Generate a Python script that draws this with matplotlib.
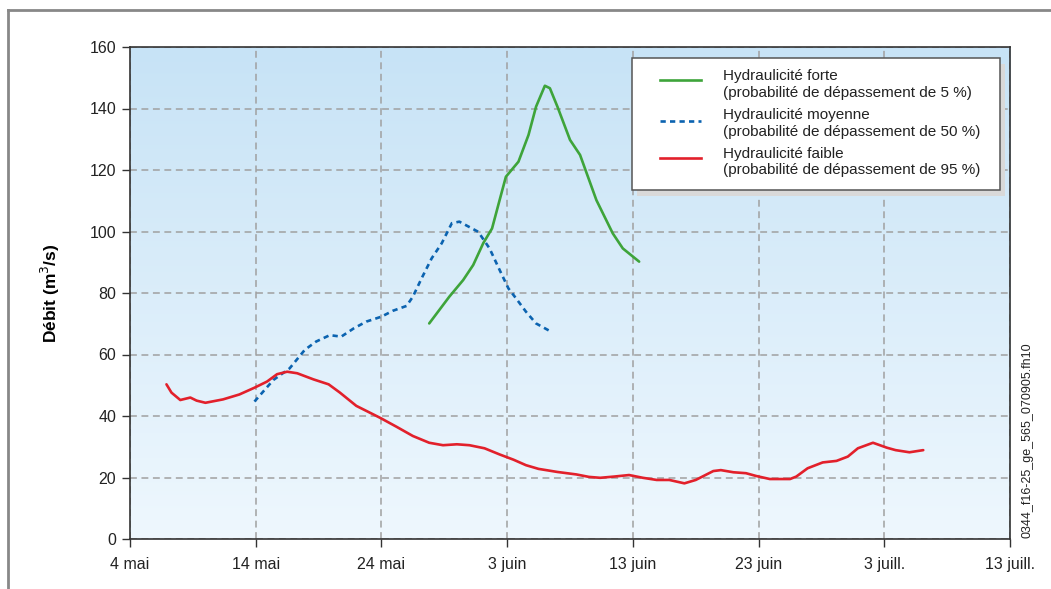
import numpy as np
import matplotlib
matplotlib.use("Agg")
import matplotlib.pyplot as plt
from matplotlib.patches import Rectangle
from matplotlib.lines import Line2D

plt.rcParams['font.family'] = ['Liberation Sans', 'DejaVu Sans']

# ---- data (x = days after 4 May) ----
x_ticks = [0, 10, 20, 30, 40, 50, 60, 70]
x_labels = ["4 mai", "14 mai", "24 mai", "3 juin", "13 juin", "23 juin", "3 juill.", "13 juill."]
y_ticks = [0, 20, 40, 60, 80, 100, 120, 140, 160]

forte_days = [23.8, 25.4, 26.5, 27.3, 28.1, 28.8, 29.4, 29.9, 30.9, 31.7, 32.3, 33.0, 33.4,
              34.0, 35.0, 35.8, 37.1, 38.4, 39.2, 40.5]
forte_vals = [70.1, 78.8, 84.2, 89.1, 96.2, 101.0, 110.2, 117.8, 122.7, 131.4, 140.6, 147.4, 146.6,
              140.6, 129.8, 124.9, 110.2, 99.4, 94.5, 90.2]

moy_days = [9.9, 11.4, 12.7, 13.9, 14.8, 15.9, 16.8, 17.8, 18.8, 20.0, 20.9, 22.0, 22.5, 23.2,
            24.0, 24.8, 25.6, 26.2, 27.7, 28.6, 29.4, 30.1, 30.7, 31.5, 32.3, 33.5]
moy_vals = [44.7, 51.7, 55.5, 61.5, 64.2, 66.3, 65.8, 68.5, 70.7, 72.3, 74.2, 75.8, 78.8, 84.8,
            91.3, 96.2, 102.7, 103.2, 99.9, 94.5, 87.5, 81.5, 78.3, 73.9, 70.1, 67.4]

faible_days = [2.9, 3.3, 4.0, 4.8, 5.3, 6.0, 7.4, 8.7, 9.9, 10.9, 11.7, 12.5, 13.3, 14.6, 15.8,
               16.7, 18.0, 19.9, 21.2, 22.5, 23.8, 24.9, 26.0, 27.0, 28.2, 29.4, 30.5, 31.5, 32.5,
               34.0, 35.5, 36.5, 37.4, 38.5, 39.7, 40.8, 41.9, 42.9, 44.1, 45.0, 46.4, 47.0, 48.0,
               49.0, 49.8, 50.9, 52.5, 53.0, 53.9, 55.1, 56.2, 57.1, 57.9, 59.1, 60.2, 60.9, 62.0,
               63.1]
faible_vals = [50.3, 47.6, 45.2, 46.0, 45.0, 44.3, 45.4, 47.0, 49.2, 51.2, 53.6, 54.4, 53.9, 51.9,
               50.3, 47.6, 43.3, 39.4, 36.5, 33.5, 31.3, 30.5, 30.8, 30.5, 29.5, 27.5, 25.8, 24.0,
               22.8, 21.8, 21.0, 20.2, 19.9, 20.3, 20.8, 19.9, 19.2, 19.2, 18.1, 19.2, 22.1, 22.4,
               21.7, 21.4, 20.5, 19.5, 19.5, 20.3, 23.0, 24.9, 25.4, 26.8, 29.5, 31.3, 29.7, 28.9,
               28.2, 28.9]

series_labels = [
    ("Hydraulicité forte", "(probabilité de dépassement de 5 %)"),
    ("Hydraulicité moyenne", "(probabilité de dépassement de 50 %)"),
    ("Hydraulicité faible", "(probabilité de dépassement de 95 %)"),
]
colors = ["#3ea43a", "#0b63b0", "#e2202b"]
styles = ["-", (0, (2.0, 1.6)), "-"]

# ---- figure ----
fig = plt.figure(figsize=(10.51, 5.89), dpi=100)
ax = fig.add_axes([130/1051, 1-539/589, 880/1051, 492/589])

# gradient background
grad = np.linspace(0, 1, 256).reshape(-1, 1)
top = np.array([0.78, 0.89, 0.965])
bot = np.array([0.935, 0.97, 0.995])
img = (bot + (top - bot) * grad).reshape(256, 1, 3)
ax.imshow(img, extent=[0, 1, 0, 1], transform=ax.transAxes,
          aspect='auto', origin='lower', zorder=0)

ax.set_xlim(0, 70)
ax.set_ylim(0, 160)
ax.set_xticks(x_ticks)
ax.set_xticklabels(x_labels)
ax.set_yticks(y_ticks)
ax.tick_params(axis='both', labelsize=11.5, color='#333333', labelcolor='#222222',
               length=6, width=1)
ax.tick_params(axis='x', pad=7)
ax.tick_params(axis='y', pad=4)
for s in ax.spines.values():
    s.set_color('#333333')
    s.set_linewidth(1.2)
    s.set_zorder(10)

ax.grid(True, color='#a0a0a0', linestyle=(0, (4.5, 3)), linewidth=1.1, zorder=1)
ax.set_axisbelow(False)

ax.set_ylabel("Débit (m$^3$/s)", fontsize=12.5, fontweight='bold', labelpad=20)

data = [(forte_days, forte_vals), (moy_days, moy_vals), (faible_days, faible_vals)]
for (d, v), c, ls in zip(data, colors, styles):
    ax.plot(d, v, color=c, linestyle=ls, linewidth=1.9, zorder=3,
            solid_capstyle='round', solid_joinstyle='round')

# ---- legend (manual) ----
def fx(px):
    return (px - 130) / 880
def fy(py):
    return (539 - py) / 492

lx0, lx1, ly0, ly1 = fx(631.5), fx(999.5), fy(189.5), fy(57.5)
ax.add_patch(Rectangle((fx(637), fy(195.5)), lx1 - lx0, ly1 - ly0, transform=ax.transAxes,
                       facecolor='#d9d9d9', edgecolor='none', zorder=4))
ax.add_patch(Rectangle((lx0, ly0), lx1 - lx0, ly1 - ly0, transform=ax.transAxes,
                       facecolor='white', edgecolor='#555555', linewidth=1.1, zorder=5))
handle_y = [79.5, 120.5, 157.5]
line1_y = [76, 115.5, 154]
line2_y = [93, 132, 170]
for (l1, l2), c, ls, hy, t1, t2 in zip(series_labels, colors, styles, handle_y, line1_y, line2_y):
    ax.add_line(Line2D([fx(660), fx(701)], [fy(hy), fy(hy)], transform=ax.transAxes,
                       color=c, linestyle=ls, linewidth=1.9, zorder=6))
    ax.text(fx(723), fy(t1), l1, transform=ax.transAxes, fontsize=11,
            color='#222222', va='center', ha='left', zorder=6)
    ax.text(fx(723), fy(t2), l2, transform=ax.transAxes, fontsize=11,
            color='#222222', va='center', ha='left', zorder=6)

# side reference code
fig.text(1027/1051, 1-440/589, "0344_f16-25_ge_565_070905.fh10", rotation=90,
         fontsize=9, color='#222222', ha='center', va='center')

# outer frame (left and top)
fig.add_artist(Line2D([7.5/1051, 7.5/1051], [0, 1-9.5/589], transform=fig.transFigure,
                      color='#888888', linewidth=2))
fig.add_artist(Line2D([7.5/1051, 1], [1-9.5/589, 1-9.5/589], transform=fig.transFigure,
                      color='#888888', linewidth=2))

fig.savefig("out.png", dpi=100, facecolor='white')
